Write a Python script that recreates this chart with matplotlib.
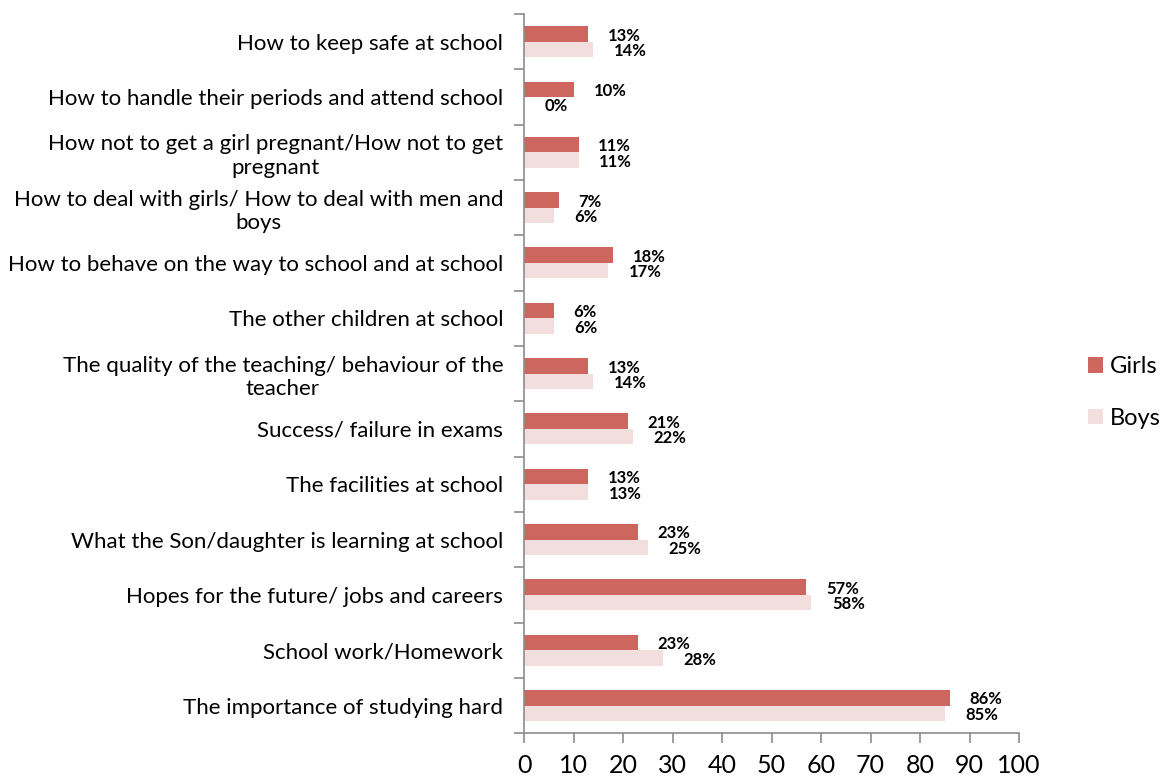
import matplotlib.pyplot as plt
import numpy as np

plt.rcParams['font.family'] = ['Lato', 'DejaVu Sans']

# Topics, listed from top of chart to bottom
topics = [
    "How to keep safe at school",
    "How to handle their periods and attend school",
    "How not to get a girl pregnant/How not to get\npregnant",
    "How to deal with girls/ How to deal with men and\nboys",
    "How to behave on the way to school and at school",
    "The other children at school",
    "The quality of the teaching/ behaviour of the\nteacher",
    "Success/ failure in exams",
    "The facilities at school",
    "What the Son/daughter is learning at school",
    "Hopes for the future/ jobs and careers",
    "School work/Homework",
    "The importance of studying hard",
]
girls = [13, 10, 11, 7, 18, 6, 13, 21, 13, 23, 57, 23, 86]
boys = [14, 0, 11, 6, 17, 6, 14, 22, 13, 25, 58, 28, 85]

girls_color = "#CD665F"
boys_color = "#F2DEDD"
axis_gray = "#8C8C8C"

fig = plt.figure(figsize=(11.62, 7.8), dpi=100)
ax = fig.add_axes([0.451, 0.060, 0.426, 0.922])

n = len(topics)
y = np.arange(n)[::-1]  # first topic at the top
h = 0.28

ax.barh(y + h / 2, girls, height=h, color=girls_color, label="Girls")
ax.barh(y - h / 2, boys, height=h, color=boys_color, label="Boys")

for yi, g, b in zip(y, girls, boys):
    ax.text(g + 4, yi + h / 2 - 0.03, f"{g}%", ha="left", va="center",
            fontsize=12, fontweight="bold")
    ax.text(b + 4.2, yi - h / 2 - 0.03, f"{b}%", ha="left", va="center",
            fontsize=12, fontweight="bold")

ax.set_xlim(0, 100)
ax.set_ylim(-0.5, n - 0.5)
ax.set_xticks(np.arange(0, 101, 10))
ax.tick_params(axis="x", labelsize=18, length=7, width=1.2, color=axis_gray, pad=8)

# category labels sit between boundary ticks
ax.set_yticks(np.arange(-0.5, n, 1.0))
ax.set_yticklabels([])
ax.tick_params(axis="y", length=7, width=1.2, color=axis_gray)
ax.set_yticks(y, minor=True)
ax.set_yticklabels(topics, minor=True, fontsize=16, multialignment="center")
ax.tick_params(axis="y", which="minor", length=0, pad=15)

for side in ["top", "right"]:
    ax.spines[side].set_visible(False)
for side in ["left", "bottom"]:
    ax.spines[side].set_color(axis_gray)
    ax.spines[side].set_linewidth(1.2)

fig.legend(loc="center left", bbox_to_anchor=(0.936, 0.497), frameon=False,
           fontsize=17, handlelength=0.65, handleheight=0.65, handletextpad=0.3,
           labelspacing=1.3, borderpad=0, borderaxespad=0)

fig.savefig("out.png", dpi=100)
plt.close(fig)
